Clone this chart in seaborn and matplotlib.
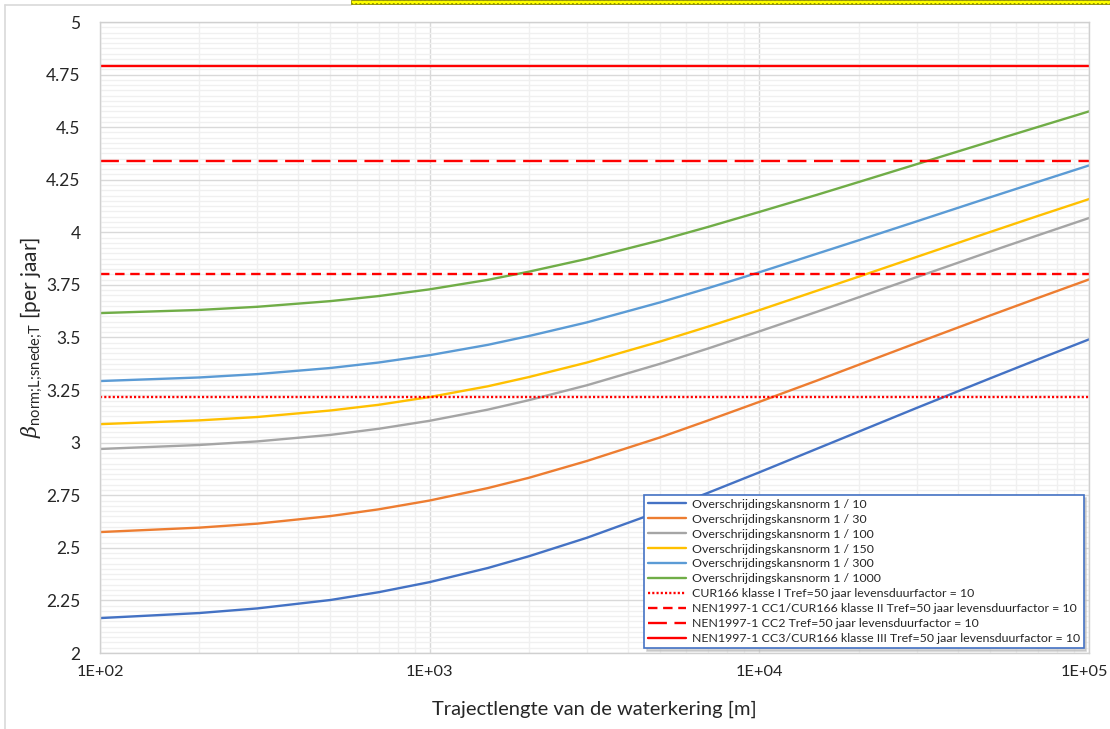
import matplotlib
matplotlib.use("Agg")
import matplotlib.pyplot as plt
from matplotlib.patches import Rectangle
from matplotlib.lines import Line2D
from matplotlib.ticker import FixedLocator, NullFormatter
from matplotlib.transforms import ScaledTranslation
import numpy as np
import pandas as pd
import seaborn as sns

# Trajectory length [m]
lengths = [100, 200, 300, 500, 700, 1000, 1500, 2000, 3000, 5000, 7000,
           10000, 15000, 20000, 30000, 50000, 70000, 100000]

# Cross-section reliability index per exceedance-probability norm
beta_10 = [2.166, 2.190, 2.212, 2.252, 2.289, 2.337, 2.404, 2.460, 2.548, 2.674, 2.762,
           2.859, 2.972, 3.052, 3.165, 3.305, 3.396, 3.491]
beta_30 = [2.575, 2.596, 2.615, 2.651, 2.683, 2.725, 2.784, 2.833, 2.913, 3.025, 3.106,
           3.194, 3.296, 3.370, 3.474, 3.604, 3.688, 3.776]
beta_100 = [2.970, 2.989, 3.006, 3.037, 3.066, 3.104, 3.157, 3.202, 3.273, 3.375, 3.448,
            3.529, 3.623, 3.691, 3.787, 3.908, 3.986, 4.068]
beta_150 = [3.088, 3.106, 3.122, 3.153, 3.180, 3.217, 3.268, 3.312, 3.381, 3.481, 3.552,
            3.630, 3.723, 3.789, 3.883, 4.001, 4.078, 4.158]
beta_300 = [3.293, 3.310, 3.326, 3.355, 3.381, 3.416, 3.465, 3.507, 3.572, 3.667, 3.735,
            3.810, 3.899, 3.962, 4.052, 4.166, 4.240, 4.318]
beta_1000 = [3.616, 3.631, 3.646, 3.673, 3.697, 3.729, 3.774, 3.813, 3.874, 3.962, 4.026,
             4.097, 4.179, 4.239, 4.324, 4.431, 4.501, 4.575]

norm_labels = ["Overschrijdingskansnorm 1 / 10", "Overschrijdingskansnorm 1 / 30",
               "Overschrijdingskansnorm 1 / 100", "Overschrijdingskansnorm 1 / 150",
               "Overschrijdingskansnorm 1 / 300", "Overschrijdingskansnorm 1 / 1000"]
norm_colors = ["#4472C4", "#ED7D31", "#A5A5A5", "#FFC000", "#5B9BD5", "#70AD47"]
norm_series = [beta_10, beta_30, beta_100, beta_150, beta_300, beta_1000]

# Reference reliability levels (constant over length)
ref_labels = ["CUR166 klasse I Tref=50 jaar levensduurfactor = 10",
              "NEN1997-1 CC1/CUR166 klasse II Tref=50 jaar levensduurfactor = 10",
              "NEN1997-1 CC2 Tref=50 jaar levensduurfactor = 10",
              "NEN1997-1 CC3/CUR166 klasse III Tref=50 jaar levensduurfactor = 10"]
ref_values = [3.217, 3.802, 4.339, 4.791]
ref_dashes = [(0.9, 0.9), (4.0, 2.4), (8.0, 3.2), None]

x_ticks = [1e2, 1e3, 1e4, 1e5]
x_ticklabels = ["1E+02", "1E+03", "1E+04", "1E+05"]
y_ticks = [2, 2.25, 2.5, 2.75, 3, 3.25, 3.5, 3.75, 4, 4.25, 4.5, 4.75, 5]
y_ticklabels = ["2", "2.25", "2.5", "2.75", "3", "3.25", "3.5", "3.75", "4", "4.25", "4.5", "4.75", "5"]

sns.set_theme(style="white")
plt.rcParams["font.family"] = ["Lato", "DejaVu Sans"]
plt.rcParams["mathtext.fontset"] = "custom"
plt.rcParams["mathtext.it"] = "DejaVu Serif:italic"
plt.rcParams["mathtext.rm"] = "Lato"

fig = plt.figure(figsize=(11.1, 7.29), dpi=100)
ax = fig.add_axes([100 / 1110, 1 - 653 / 729, 989 / 1110, 631 / 729])

lw = 1.7
for vals, lab, col in zip(norm_series, norm_labels, norm_colors):
    df = pd.DataFrame({"L": lengths, "beta": vals})
    sns.lineplot(data=df, x="L", y="beta", ax=ax, color=col, lw=lw, label=lab)

for val, lab, dash in zip(ref_values, ref_labels, ref_dashes):
    df = pd.DataFrame({"L": [lengths[0], lengths[-1]], "beta": [val, val]})
    sns.lineplot(data=df, x="L", y="beta", ax=ax, color="#FF0000", lw=lw, label=lab)
    line = ax.lines[-1]
    if dash is not None:
        line.set_dashes(dash)
        line.set_dash_capstyle("butt")

ax.set_xscale("log")
ax.set_xlim(1e2, 1e5)
ax.set_ylim(2, 5)

ax.xaxis.set_major_locator(FixedLocator(x_ticks))
ax.set_xticklabels(x_ticklabels)
minor_x = [m * 10 ** e for e in range(2, 5) for m in range(2, 10)]
ax.xaxis.set_minor_locator(FixedLocator(minor_x))
ax.xaxis.set_minor_formatter(NullFormatter())
ax.yaxis.set_major_locator(FixedLocator(y_ticks))
ax.set_yticklabels(y_ticklabels)
ax.yaxis.set_minor_locator(FixedLocator(np.arange(2, 5.0001, 0.025)))

ax.grid(which="minor", color="#F0F0F0", lw=1.0, zorder=0)
ax.grid(which="major", color="#D9D9D9", lw=1.0, zorder=0)
ax.set_axisbelow(True)
for s in ax.spines.values():
    s.set_color("#D0D0D0")
    s.set_linewidth(1.0)

ax.tick_params(axis="both", which="both", length=0, labelsize=12.5, colors="#262626")
ax.tick_params(axis="x", pad=9, labelsize=11.8)
ax.tick_params(axis="y", pad=14)

# keep the last x label inside the figure edge
last = ax.get_xticklabels()[-1]
last.set_transform(last.get_transform() + ScaledTranslation(-5 / 100, 0, fig.dpi_scale_trans))

ax.set_xlabel("Trajectlengte van de waterkering [m]", fontsize=14.5, color="#262626", labelpad=15)
ax.set_ylabel(r"$\mathit{\beta}_{\mathregular{norm;\!L;\!snede;\!T}}$ [per jaar]", fontsize=15,
              color="#262626", labelpad=1)

handles, labels = ax.get_legend_handles_labels()
leg = ax.legend(handles, labels, loc="lower right", bbox_to_anchor=(0.9945, 0.008),
                borderaxespad=0, fontsize=8.9, frameon=True, fancybox=False,
                edgecolor="#4472C4", framealpha=1, handlelength=3.1, handletextpad=0.45,
                labelspacing=0.32, borderpad=0.3, shadow={"color": "#BBBBBB", "alpha": 0.6})
leg.get_frame().set_linewidth(1.2)
for t in leg.get_texts():
    t.set_color("#262626")

# Chart-area border and selection strip along the top edge
fig.add_artist(Line2D([4.5 / 1110, 4.5 / 1110], [0, 1 - 4.5 / 729], transform=fig.transFigure,
                      color="#D9D9D9", lw=1.2))
fig.add_artist(Line2D([4.5 / 1110, 351 / 1110], [1 - 4.5 / 729, 1 - 4.5 / 729],
                      transform=fig.transFigure, color="#D9D9D9", lw=1.2))
fig.add_artist(Rectangle((351 / 1110, 1 - 4 / 729), 759 / 1110, 4 / 729, transform=fig.transFigure,
                         facecolor="#FFFF00", edgecolor="#8A8A00", lw=0.6, hatch="....",
                         zorder=5))

fig.savefig("out.png", dpi=100, facecolor="white")
